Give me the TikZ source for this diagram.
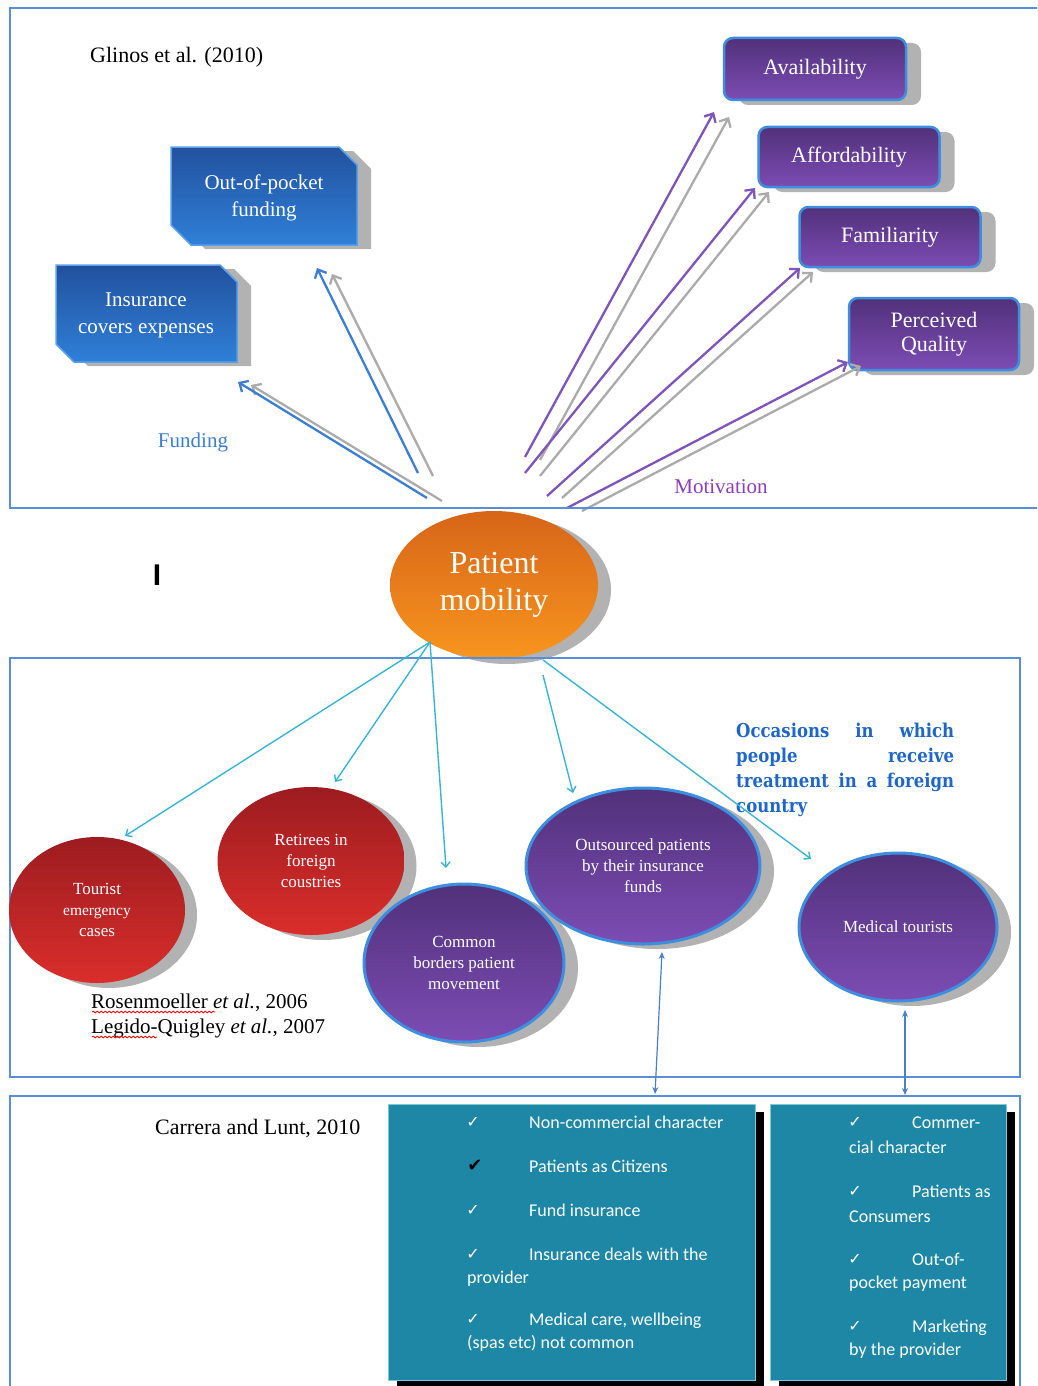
\documentclass[tikz,border=0pt]{standalone}
\usepackage{fontspec}
\setmainfont{Liberation Serif}
\newfontfamily\calibfont{Carlito}
\newfontfamily\symbfont{DejaVu Sans}
\newfontfamily\slabfont[FakeStretch=0.87]{DejaVu Serif}
\newfontfamily\arialfont{Liberation Sans}
\usetikzlibrary{arrows.meta,shadows,shapes.geometric,decorations.pathmorphing}

\definecolor{framec}{HTML}{5B8ED8}
\definecolor{fundtop}{HTML}{22519E}
\definecolor{fundbot}{HTML}{2F80D8}
\definecolor{fundedge}{HTML}{5AA0E8}
\definecolor{shadowc}{HTML}{B2B2B2}
\definecolor{purtop}{HTML}{51317A}
\definecolor{purbot}{HTML}{7C4CB4}
\definecolor{puredge}{HTML}{3E8EE0}
\definecolor{orgtop}{HTML}{D66518}
\definecolor{orgbot}{HTML}{F8951E}
\definecolor{redtop}{HTML}{9C1C20}
\definecolor{redbot}{HTML}{DA2E2B}
\definecolor{fundline}{HTML}{3D7ED2}
\definecolor{greyline}{HTML}{ABABAB}
\definecolor{motline}{HTML}{7E55BA}
\definecolor{motlabel}{HTML}{8B3FC0}
\definecolor{cyanline}{HTML}{3AB4D2}
\definecolor{linkline}{HTML}{4A7FC8}
\definecolor{tealfill}{HTML}{1E87A6}
\definecolor{tealedge}{HTML}{7FC8DC}
\definecolor{occblue}{HTML}{1F66C8}

\tikzset{
  frame/.style={draw=framec, line width=1.8pt},
  snipfill/.style={top color=fundtop, bottom color=fundbot, draw=fundedge, line width=1.5pt},
  fundtext/.style={text=white, align=center, inner sep=0pt,
    font=\fontsize{21}{27}\selectfont},
  motbox/.style={rectangle, rounded corners=9pt, draw=puredge, line width=2.5pt,
    top color=purtop, bottom color=purbot, text=white, align=center,
    minimum height=60pt, inner sep=0pt,
    font=\fontsize{22}{24}\selectfont,
    drop shadow={shadow xshift=15pt, shadow yshift=-5pt, fill=shadowc, opacity=1}},
  bigarrow/.style={line width=2.3pt, -{Straight Barb[length=7pt,width=13pt]}},
  fundarrow/.style={bigarrow, draw=fundline},
  greyarrow/.style={bigarrow, draw=greyline},
  motarrow/.style={bigarrow, draw=motline},
  redoval/.style={ellipse, inner sep=0pt, top color=redtop, bottom color=redbot,
    text=white, align=center, font=\fontsize{17}{21}\selectfont,
    drop shadow={shadow xshift=12pt, shadow yshift=-5pt, fill=shadowc, opacity=1}},
  puroval/.style={ellipse, inner sep=0pt, top color=purtop, bottom color=purbot,
    draw=puredge, line width=3pt,
    text=white, align=center, font=\fontsize{17}{21}\selectfont,
    drop shadow={shadow xshift=14pt, shadow yshift=-5pt, fill=shadowc, opacity=1}},
  cyanarrow/.style={draw=cyanline, line width=1.4pt, -{Straight Barb[length=5pt,width=9pt]}},
  linkarrow/.style={draw=linkline, line width=1.2pt,
    {Stealth[length=7pt,width=6pt]}-{Stealth[length=7pt,width=6pt]}},
  tealbox/.style={rectangle, fill=tealfill, draw=tealedge, line width=1pt, inner sep=0pt,
    minimum height=276pt,
    drop shadow={shadow xshift=9pt, shadow yshift=-8pt, fill=black, opacity=1}},
  tealtext/.style={anchor=base west, inner sep=0pt, text=white,
    font=\calibfont\fontsize{18}{22}\selectfont},
  tick/.style={anchor=base, inner sep=0pt, text=white, font=\symbfont\fontsize{16}{18}\selectfont},
  cite/.style={anchor=base west, inner sep=0pt, font=\fontsize{21}{25}\selectfont},
  occline/.style={anchor=base west, inner sep=0pt, text=occblue,
    font=\slabfont\bfseries\fontsize{19}{25}\selectfont},
  squiggle/.style={draw=red, line width=0.8pt, decorate,
    decoration={snake, amplitude=0.9pt, segment length=4pt}}
}

\begin{document}
\begin{tikzpicture}[x=1pt,y=-1pt]
\useasboundingbox (0,0) rectangle (1037,1386);
\fill[white] (0,0) rectangle (1037,1386);
\clip (0,0) rectangle (1037,1386);

% ---------- funding boxes (snipped corners) ----------
\fill[shadowc] (185,151) -- (353,151) -- (371,169) -- (371,249) -- (205,249) -- (185,229) -- cycle;
\shadedraw[snipfill] (171,147) -- (339,147) -- (357,165) -- (357,245) -- (191,245) -- (171,225) -- cycle;
\node[fundtext] (oop) at (264,198) {Out-of-pocket\\funding};

\fill[shadowc] (70,269) -- (234,269) -- (251,286) -- (251,366) -- (88,366) -- (70,348) -- cycle;
\shadedraw[snipfill] (56,265) -- (220,265) -- (237,282) -- (237,362) -- (74,362) -- (56,344) -- cycle;
\node[fundtext] (ins) at (146,315) {Insurance\\covers expenses};

\node[anchor=base west, inner sep=0pt, font=\fontsize{22}{26}\selectfont] (glinos) at (90,63) {Glinos et al. (2010)};

% ---------- motivation boxes ----------
\node[motbox, minimum width=182pt, minimum height=62pt] (avail) at (815,69) {Availability};
\node[motbox, minimum width=181pt] (afford) at (849,157) {Affordability};
\node[motbox, minimum width=181pt] (famil) at (890,237) {Familiarity};
\node[motbox, minimum width=170pt, minimum height=72pt] (perc) at (934,334) {Perceived\\Quality};

% ---------- arrow end points ----------
\coordinate (fT1) at (427,498); \coordinate (fH1) at (238,382);
\coordinate (gT1) at (442,501); \coordinate (gH1) at (251,385);
\coordinate (fT2) at (418,473); \coordinate (fH2) at (317,268);
\coordinate (gT2) at (433,476); \coordinate (gH2) at (332,274);

\coordinate (mT1) at (525,457); \coordinate (mH1) at (714,112);
\coordinate (nT1) at (540,460); \coordinate (nH1) at (729,117);
\coordinate (mT2) at (525,473); \coordinate (mH2) at (755,188);
\coordinate (nT2) at (540,476); \coordinate (nH2) at (769,192);
\coordinate (mT3) at (547,496); \coordinate (mH3) at (800,268);
\coordinate (nT3) at (562,498); \coordinate (nH3) at (813,272);
\coordinate (mT4) at (567,508); \coordinate (mH4) at (848,362);
\coordinate (nT4) at (582,511); \coordinate (nH4) at (861,366);

\draw[greyarrow] (gT1) -- (gH1);
\draw[fundarrow] (fT1) -- (fH1);
\draw[greyarrow] (gT2) -- (gH2);
\draw[fundarrow] (fT2) -- (fH2);

\draw[greyarrow] (nT1) -- (nH1);
\draw[motarrow] (mT1) -- (mH1);
\draw[greyarrow] (nT2) -- (nH2);
\draw[motarrow] (mT2) -- (mH2);
\draw[greyarrow] (nT3) -- (nH3);
\draw[motarrow] (mT3) -- (mH3);
\draw[greyarrow] (nT4) -- (nH4);
\draw[motarrow] (mT4) -- (mH4);

\node[anchor=base, inner sep=0pt, text=fundline, font=\fontsize{21}{25}\selectfont] (fundlbl) at (193,447) {Funding};
\node[anchor=base, inner sep=0pt, text=motlabel, font=\fontsize{21}{25}\selectfont] (motlbl) at (721,493) {Motivation};

% ---------- central node ----------
\node[ellipse, inner sep=0pt, minimum width=208pt, minimum height=148pt,
      top color=orgtop, bottom color=orgbot, text=white, align=center,
      font=\fontsize{32}{37}\selectfont,
      drop shadow={shadow xshift=13pt, shadow yshift=-5pt, fill=shadowc, opacity=1}]
      (pm) at (494,585) {Patient\\mobility};

\node[inner sep=0pt, font=\arialfont\bfseries\fontsize{30}{30}\selectfont] (cursor) at (157,575) {I};

% ---------- frames ----------
\draw[frame] (10,8) rectangle (1060,508);
\draw[frame] (10,658) rectangle (1020,1077);
\draw[frame] (10,1096) rectangle (1020,1400);

% ---------- kinds of patient mobility ----------
\node[redoval, minimum width=176pt, minimum height=146pt] (tour) at (97,910)
  {Tourist\\{\fontsize{15.5}{20}\selectfont emergency}\\cases};
\node[redoval, minimum width=187pt, minimum height=148pt] (retir) at (311,861)
  {Retirees in\\foreign\\coustries};
\node[puroval, minimum width=200pt, minimum height=158pt] (common) at (464,963)
  {Common\\borders patient\\movement};
\node[puroval, minimum width=234pt, minimum height=156pt] (outs) at (643,866)
  {Outsourced patients\\by their insurance\\funds};
\node[puroval, minimum width=198pt, minimum height=148pt] (medt) at (898,927)
  {Medical tourists};

\coordinate (cT) at (430,642);
\coordinate (cH1) at (125,836);
\coordinate (cH2) at (335,782);
\coordinate (cH3) at (446,868);
\coordinate (cT4) at (543,675); \coordinate (cH4) at (573,793);
\coordinate (cT5) at (543,660); \coordinate (cH5) at (811,859);
\draw[cyanarrow] (cT) -- (cH1);
\draw[cyanarrow] (cT) -- (cH2);
\draw[cyanarrow] (cT) -- (cH3);
\draw[cyanarrow] (cT4) -- (cH4);

\node[occline] (occ1) at (736,737) {\makebox[218pt][s]{Occasions in which}};
\node[occline] (occ2) at (736,762) {\makebox[218pt][s]{people receive}};
\node[occline] (occ3) at (736,787) {\makebox[218pt][s]{treatment in a foreign}};
\node[occline] (occ4) at (736,812) {country};
\draw[cyanarrow] (cT5) -- (cH5);

\node[cite] (cite1) at (91,1008) {Rosenmoeller \textit{et al.}, 2006};
\node[cite] (cite2) at (91,1033) {Legido-Quigley \textit{et al.}, 2007};
\draw[squiggle] (92,1012) -- (215,1012);
\draw[squiggle] (92,1037) -- (157,1037);

% ---------- links to the lower boxes ----------
\coordinate (lA1) at (662,952); \coordinate (lB1) at (655,1094);
\coordinate (lA2) at (905,1010); \coordinate (lB2) at (905,1095);
\draw[linkarrow] (lA1) -- (lB1);
\draw[linkarrow] (lA2) -- (lB2);

% ---------- Carrera and Lunt ----------
\node[anchor=base west, inner sep=0pt, font=\fontsize{22}{26}\selectfont] (carrera) at (155,1134) {Carrera and Lunt, 2010};

\node[tealbox, minimum width=367pt] (boxA) at (571.5,1242) {};
\node[tealbox, minimum width=236pt] (boxB) at (888,1242) {};

\node[tick] (kA1) at (473,1127) {✓};
\node[tealtext] (tA1) at (529,1128) {Non-commercial character};
\node[tick, text=black, font=\symbfont\fontsize{18}{20}\selectfont] (kA2) at (475,1171) {✔};
\node[tealtext] (tA2) at (529,1172) {Patients as Citizens};
\node[tick] (kA3) at (473,1215) {✓};
\node[tealtext] (tA3) at (529,1216) {Fund insurance};
\node[tick] (kA4) at (473,1259) {✓};
\node[tealtext] (tA4) at (529,1260) {Insurance deals with the};
\node[tealtext] (tA4b) at (467,1283) {provider};
\node[tick] (kA5) at (473,1324) {✓};
\node[tealtext] (tA5) at (529,1325) {Medical care, wellbeing};
\node[tealtext] (tA5b) at (467,1348) {(spas etc) not common};

\node[tick] (kB1) at (855,1127) {✓};
\node[tealtext] (tB1) at (912,1128) {Commer-};
\node[tealtext] (tB1b) at (849,1153) {cial character};
\node[tick] (kB2) at (855,1196) {✓};
\node[tealtext] (tB2) at (912,1197) {Patients as};
\node[tealtext] (tB2b) at (849,1222) {Consumers};
\node[tick] (kB3) at (855,1264) {✓};
\node[tealtext] (tB3) at (912,1265) {Out-of-};
\node[tealtext] (tB3b) at (849,1288) {pocket payment};
\node[tick] (kB4) at (855,1331) {✓};
\node[tealtext] (tB4) at (912,1332) {Marketing};
\node[tealtext] (tB4b) at (849,1355) {by the provider};

\end{tikzpicture}
\end{document}
